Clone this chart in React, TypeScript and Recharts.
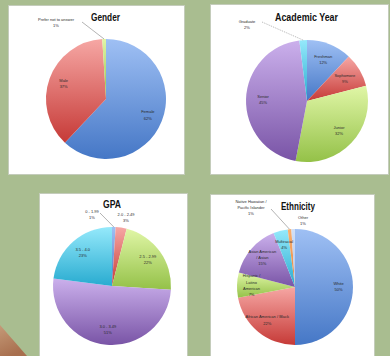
import React from 'react';
import { PieChart, Pie, Cell } from 'recharts';

// ---------- data ----------
const genderNames = ['Female', 'Male', 'Prefer not to answer'];
const genderValues = [62, 37, 1];

const yearNames = ['Freshman', 'Sophomore', 'Junior', 'Senior', 'Graduate'];
const yearValues = [12, 9, 32, 45, 2];

const gpaNames = ['0 - 1.99', '2.0 - 2.49', '2.5 - 2.99', '3.0 - 3.49', '3.5 - 4.0'];
const gpaValues = [1, 3, 22, 51, 23];

const ethnicityNames = [
  'White',
  'African American / Black',
  'Hispanic /\nLatino\nAmerican',
  'Asian American\n/ Asian',
  'Multiracial',
  'Native Hawaiian /\nPacific Islander',
  'Other',
];
const ethnicityValues = [50, 22, 7, 15, 4, 1, 1];

// ---------- styles ----------
const GRAD: Record<string, [string, string]> = {
  blue: ['#9fc0f4', '#4577c6'],
  red: ['#f6a7a4', '#c63a37'],
  green: ['#e0f6a6', '#94c148'],
  purple: ['#cbb0ec', '#7954a6'],
  cyan: ['#95e9fb', '#28abd0'],
  orange: ['#f9b070', '#e7823a'],
  light: ['#d2e0f7', '#a9c2ec'],
};

type Outside = { tx: number; ty: number; lx?: number; ly?: number; dash?: string };

const RADIAN = Math.PI / 180;
const FONT = '"Liberation Sans", Arial, sans-serif';

function makeLabel(names: string[], outside: Record<number, Outside>, rf: number) {
  return (p: any) => {
    const { cx, cy, midAngle, outerRadius, index, value } = p;
    const cos = Math.cos(-midAngle * RADIAN);
    const sin = Math.sin(-midAngle * RADIAN);
    const lines = [...names[index].split('\n'), `${value}%`];
    const lh = 6.2;
    const o = outside[index];
    let x: number;
    let y: number;
    let lineEl: React.ReactNode = null;
    if (o) {
      x = cx + o.tx;
      y = cy + o.ty;
      if (o.lx !== undefined && o.ly !== undefined) {
        lineEl = (
          <line
            x1={cx + o.lx}
            y1={cy + o.ly}
            x2={cx + outerRadius * cos}
            y2={cy + outerRadius * sin}
            stroke="#666"
            strokeWidth={0.5}
            strokeDasharray={o.dash}
          />
        );
      }
    } else {
      const r = outerRadius * rf;
      x = cx + r * cos;
      y = cy + r * sin - ((lines.length - 1) * lh) / 2;
    }
    return (
      <g key={`lab-${index}`}>
        {lineEl}
        <text x={x} y={y} textAnchor="middle" dominantBaseline="middle" fontSize={4} fontFamily={FONT} fill="#2a2a2a">
          {lines.map((l, i) => (
            <tspan key={i} x={x} dy={i === 0 ? 0 : lh}>
              {l}
            </tspan>
          ))}
        </text>
      </g>
    );
  };
}

type PanelProps = {
  id: string;
  title: string;
  titleW: number;
  titleY: number;
  titleDx: number;
  left: number;
  top: number;
  w: number;
  h: number;
  cx: number;
  cy: number;
  r: number;
  names: string[];
  values: number[];
  colors: string[];
  outside: Record<number, Outside>;
  rf: number;
};

function Panel(props: PanelProps) {
  const { id, title, titleW, titleY, titleDx, left, top, w, h, cx, cy, r, names, values, colors, outside, rf } = props;
  const data = names.map((n, i) => ({ name: n, value: values[i] }));
  return (
    <div
      style={{
        position: 'absolute',
        left,
        top,
        width: w,
        height: h,
        background: '#ffffff',
        boxSizing: 'border-box',
        border: '1px solid #c4ccbb',
      }}
    >
      <svg width={0} height={0} style={{ position: 'absolute' }}>
        <defs>
          {Object.keys(GRAD).map((k) => (
            <linearGradient key={k} id={`${id}-${k}`} x1="0" y1="0" x2="0" y2="1">
              <stop offset="0%" stopColor={GRAD[k][0]} />
              <stop offset="100%" stopColor={GRAD[k][1]} />
            </linearGradient>
          ))}
        </defs>
      </svg>
      <div style={{ position: 'absolute', left: -1, top: -1 }}>
        <PieChart width={w} height={h} margin={{ top: 0, right: 0, bottom: 0, left: 0 }}>
          <Pie
            data={data}
            dataKey="value"
            nameKey="name"
            cx={cx}
            cy={cy}
            outerRadius={r}
            startAngle={90}
            endAngle={-270}
            isAnimationActive={false}
            labelLine={false}
            label={makeLabel(names, outside, rf)}
            stroke="none"
          >
            {data.map((d, i) => (
              <Cell key={d.name} fill={`url(#${id}-${colors[i]})`} stroke="none" />
            ))}
          </Pie>
        </PieChart>
      </div>
      <svg width={w} height={h} style={{ position: 'absolute', left: -1, top: -1, pointerEvents: 'none' }}>
        <text
          x={cx + titleDx}
          y={titleY}
          textAnchor="middle"
          fontSize={10}
          fontWeight="bold"
          fontFamily={FONT}
          fill="#111"
          textLength={titleW}
          lengthAdjust="spacingAndGlyphs"
        >
          {title}
        </text>
      </svg>
    </div>
  );
}

export default function App() {
  return (
    <div
      style={{
        position: 'absolute',
        left: 0,
        top: 0,
        width: 390,
        height: 356,
        overflow: 'hidden',
        background: '#a9bd90',
      }}
    >
      <svg width={390} height={356} style={{ position: 'absolute', left: 0, top: 0 }}>
        <defs>
          <linearGradient id="brown" x1="0" y1="0" x2="0.4" y2="1">
            <stop offset="0%" stopColor="#c59a78" />
            <stop offset="100%" stopColor="#a86f4e" />
          </linearGradient>
        </defs>
        <polygon points="0,325 27,356 0,356" fill="url(#brown)" />
      </svg>
      <Panel
        id="gender"
        title="Gender"
        titleW={29}
        titleY={16}
        titleDx={-0.5}
        left={8}
        top={5}
        w={177}
        h={170}
        cx={98}
        cy={94}
        r={60}
        names={genderNames}
        values={genderValues}
        colors={['blue', 'red', 'green']}
        outside={{ 2: { tx: -50, ty: -79, lx: -24, ly: -77 } }}
        rf={0.75}
      />
      <Panel
        id="year"
        title="Academic Year"
        titleW={63}
        titleY={17}
        titleDx={-0.5}
        left={210}
        top={4}
        w={179}
        h={171}
        cx={97}
        cy={97}
        r={61}
        names={yearNames}
        values={yearValues}
        colors={['blue', 'red', 'green', 'purple', 'cyan']}
        outside={{ 4: { tx: -60, ty: -79, lx: -45, ly: -79, dash: '1,1' } }}
        rf={0.72}
      />
      <Panel
        id="gpa"
        title="GPA"
        titleW={18}
        titleY={15}
        titleDx={0}
        left={39}
        top={193}
        w={149}
        h={170}
        cx={73}
        cy={93}
        r={59}
        names={gpaNames}
        values={gpaValues}
        colors={['blue', 'red', 'green', 'purple', 'cyan']}
        outside={{
          0: { tx: -20, ty: -74, lx: -12, ly: -73 },
          1: { tx: 14, ty: -71 },
        }}
        rf={0.75}
      />
      <Panel
        id="eth"
        title="Ethnicity"
        titleW={34}
        titleY={16}
        titleDx={3}
        left={210}
        top={194}
        w={165}
        h={170}
        cx={85}
        cy={93}
        r={58}
        names={ethnicityNames}
        values={ethnicityValues}
        colors={['blue', 'red', 'green', 'purple', 'cyan', 'orange', 'light']}
        outside={{
          5: { tx: -44, ty: -85, lx: -24, ly: -78 },
          6: { tx: 8, ty: -69 },
        }}
        rf={0.75}
      />
    </div>
  );
}
